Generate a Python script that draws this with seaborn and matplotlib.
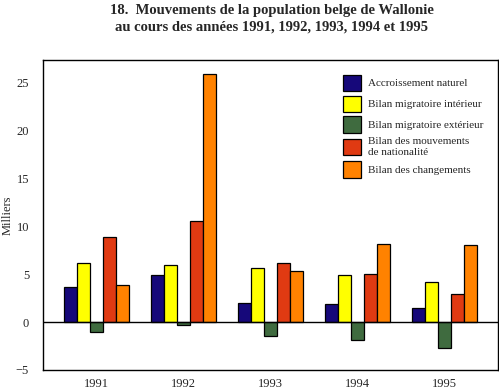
import pandas as pd
import seaborn as sns
import matplotlib.pyplot as plt

# Valeurs estimées (milliers)
annees = ['1991', '1992', '1993', '1994', '1995']
series = ['Accroissement naturel', 'Bilan migratoire intérieur',
          'Bilan migratoire extérieur', 'Bilan des mouvements\nde nationalité',
          'Bilan des changements']
accroissement = [3.7, 4.85, 1.95, 1.85, 1.45]
interieur = [6.2, 5.9, 5.6, 4.85, 4.15]
exterieur = [-1.05, -0.35, -1.5, -1.9, -2.75]
nationalite = [8.9, 10.5, 6.15, 5.0, 2.9]
changements = [3.9, 25.8, 5.3, 8.1, 8.0]
couleurs = ['#16087a', '#ffff00', '#3f6b3f', '#e03a12', '#ff8200']

rows = []
for s, vals in zip(series, [accroissement, interieur, exterieur, nationalite, changements]):
    for a, v in zip(annees, vals):
        rows.append({'annee': a, 'serie': s, 'valeur': v})
df = pd.DataFrame(rows)

sns.set_style('white')
plt.rcParams['font.family'] = ['Liberation Serif', 'DejaVu Serif']

fig = plt.figure(figsize=(4.99, 3.9), dpi=100)
ax = fig.add_axes([43 / 499, 20 / 390, 455 / 499, 310 / 390])
sns.barplot(data=df, x='annee', y='valeur', hue='serie', palette=couleurs,
            width=0.75, edgecolor='black', linewidth=0.9, saturation=1, ax=ax)

ax.axhline(0, color='black', lw=1)
ax.set_ylim(-5, 27.3)
ax.set_xlim(-0.62, 4.62)
ax.set_yticks([-5, 0, 5, 10, 15, 20, 25])
ax.set_xlabel('')
ax.set_ylabel('Milliers', fontsize=9)
ax.yaxis.set_label_coords(-0.064, 0.5)
ax.tick_params(direction='in', length=8, width=1, labelsize=9, color='black')
ax.tick_params(axis='y', pad=10)
ax.tick_params(axis='x', pad=6)
for sp in ax.spines.values():
    sp.set_color('black')
    sp.set_linewidth(1)

leg = ax.legend(loc='upper right', bbox_to_anchor=(0.99, 0.985), frameon=False,
                fontsize=8, handlelength=1.65, handleheight=1.9,
                labelspacing=0.4, handletextpad=0.65)

fig.suptitle('18.  Mouvements de la population belge de Wallonie\n'
             'au cours des années 1991, 1992, 1993, 1994 et 1995',
             fontsize=10.5, fontweight='bold', y=0.99, x=0.545, linespacing=1.35)

fig.savefig('out.png', dpi=100)
